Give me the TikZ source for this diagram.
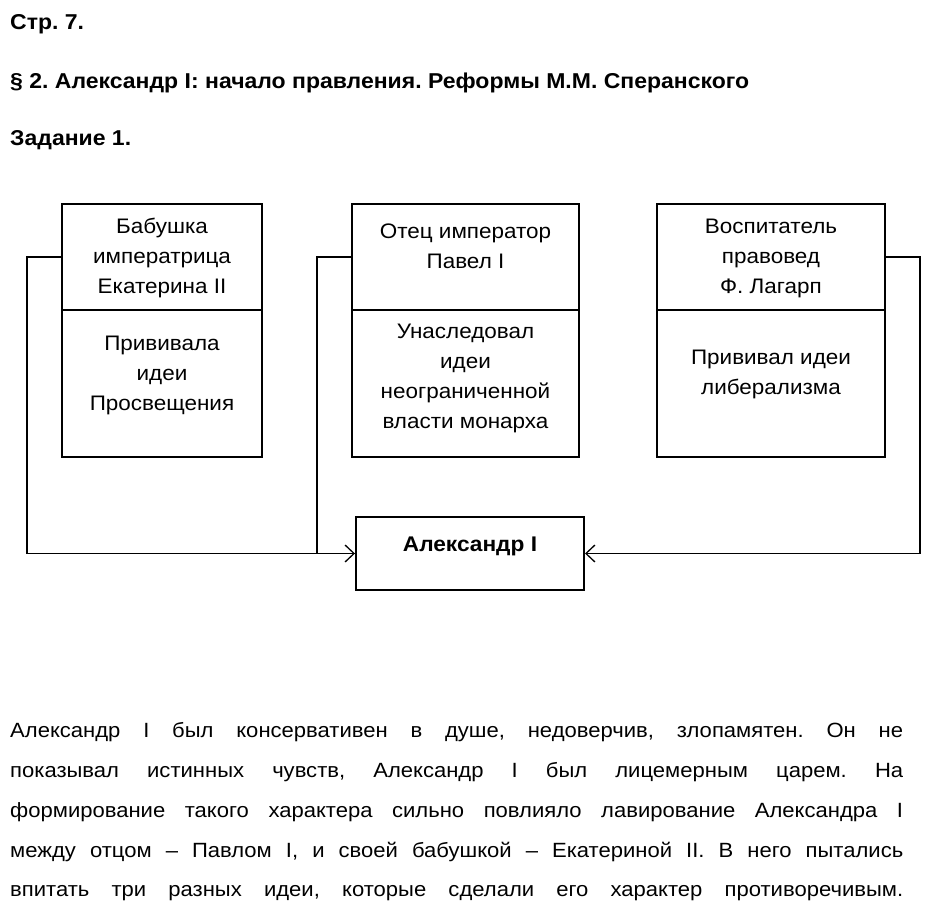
\documentclass[tikz,border=0pt]{standalone}
\usepackage{fontspec}
\setmainfont{Liberation Sans}[FakeStretch=1.07]
\usetikzlibrary{arrows.meta}
\frenchspacing
\begin{document}
\begin{tikzpicture}[x=1pt,y=-1pt,
  cell/.style={draw=black, line width=2pt, minimum width=#1, inner sep=0pt},
  boxtext/.style={align=center, font=\fontsize{21}{30}\selectfont, inner sep=0pt, anchor=base},
  head/.style={font=\fontsize{21.5}{24}\selectfont\bfseries, anchor=base west, inner sep=0pt},
  para/.style={font=\fontsize{20.6}{40}\selectfont, anchor=base west, inner sep=0pt},
  conn/.style={draw=black, line width=1.3pt},
  arr/.style={-{Straight Barb[length=9pt,width=17pt,line width=1.3pt]}}
]
\useasboundingbox (0,0) rectangle (929,915);
\fill[white] (0,0) rectangle (929,915);

% headings
\node[head] (h1) at (10,30) {Стр. 7.};
\node[head] (h2) at (10,89) {§ 2. Александр I: начало правления. Реформы М.М. Сперанского};
\node[head] (h3) at (10,146) {Задание 1.};

% boxes
\node[cell=200pt, minimum height=106pt] (b1t) at (162,257) {};
\node[cell=200pt, minimum height=147pt] (b1b) at (162,383.5) {};
\node[cell=227pt, minimum height=106pt] (b2t) at (465.5,257) {};
\node[cell=227pt, minimum height=147pt] (b2b) at (465.5,383.5) {};
\node[cell=228pt, minimum height=106pt] (b3t) at (771,257) {};
\node[cell=228pt, minimum height=147pt] (b3b) at (771,383.5) {};
\node[cell=228pt, minimum height=73pt] (alex) at (470,553.5) {};

% box texts (anchor = baseline of last line)
\node[boxtext] (t1t) at (162,293) {Бабушка\\императрица\\Екатерина II};
\node[boxtext] (t1b) at (162,410) {Прививала\\идеи\\Просвещения};
\node[boxtext] (t2t) at (465.5,268.5) {Отец император\\Павел I};
\node[boxtext] (t2b) at (465.5,428.5) {Унаследовал\\идеи\\неограниченной\\власти монарха};
\node[boxtext] (t3t) at (771,293) {Воспитатель\\правовед\\Ф. Лагарп};
\node[boxtext] (t3b) at (771,394.5) {Прививал идеи\\либерализма};
\node[font=\fontsize{21.2}{24}\selectfont\bfseries, anchor=base, inner sep=0pt] (talex) at (470,551) {Александр I};

% connectors
\draw[conn,arr] (b1t.west) -- ++(-34,0) |- (alex.west);
\draw[conn] (b2t.west) -- ++(-34,0) |- (alex.west);
\draw[conn,arr] (b3t.east) -- ++(34,0) |- (alex.east);

% paragraph
\node[para] (p1) at (10,737) {\makebox[893pt][s]{Александр I был консервативен в душе, недоверчив, злопамятен. Он не}};
\node[para] (p2) at (10,777) {\makebox[893pt][s]{показывал истинных чувств, Александр I был лицемерным царем. На}};
\node[para] (p3) at (10,817) {\makebox[893pt][s]{формирование такого характера сильно повлияло лавирование Александра I}};
\node[para] (p4) at (10,857) {\makebox[893pt][s]{между отцом – Павлом I, и своей бабушкой – Екатериной II. В него пытались}};
\node[para] (p5) at (10,896) {\makebox[893pt][s]{впитать три разных идеи, которые сделали его характер противоречивым.}};
\end{tikzpicture}
\end{document}
